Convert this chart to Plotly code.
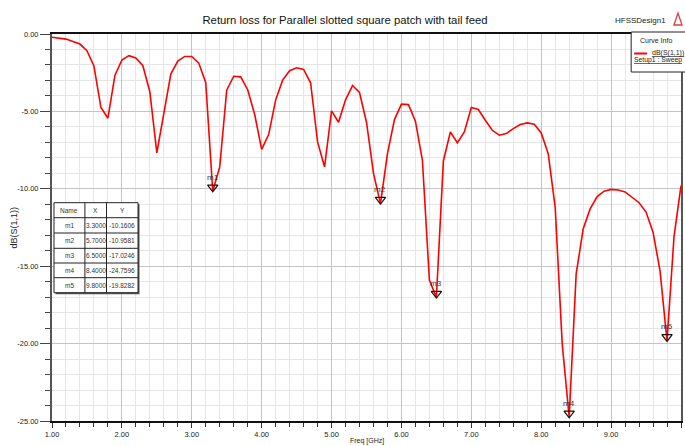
import plotly.graph_objects as go

# Swept S11 response (dB) of the parallel slotted square patch
freq_ghz = [1.0, 1.1, 1.2, 1.3, 1.4, 1.5, 1.6, 1.7, 1.8, 1.9,
            2.0, 2.1, 2.2, 2.3, 2.4, 2.5, 2.6, 2.7, 2.8, 2.9,
            3.0, 3.1, 3.2, 3.3, 3.4, 3.5, 3.6, 3.7, 3.8, 3.9,
            4.0, 4.1, 4.2, 4.3, 4.4, 4.5, 4.6, 4.7, 4.8, 4.9,
            5.0, 5.1, 5.2, 5.3, 5.4, 5.5, 5.6, 5.7, 5.8, 5.9,
            6.0, 6.1, 6.2, 6.3, 6.4, 6.5, 6.6, 6.7, 6.8, 6.9,
            7.0, 7.1, 7.2, 7.3, 7.4, 7.5, 7.6, 7.7, 7.8, 7.9,
            8.0, 8.1, 8.2, 8.3, 8.4, 8.5, 8.6, 8.7, 8.8, 8.9,
            9.0, 9.1, 9.2, 9.3, 9.4, 9.5, 9.6, 9.7, 9.8, 9.9, 10.0]
s11_db = [-0.21, -0.26, -0.33, -0.48, -0.65, -1.08, -2.07, -4.75, -5.44, -2.68,
          -1.68, -1.40, -1.55, -2.05, -3.73, -7.68, -5.14, -2.59, -1.75, -1.45,
          -1.45, -1.88, -3.14, -10.1606, -8.59, -3.63, -2.73, -2.77, -3.60, -5.20,
          -7.45, -6.50, -4.27, -2.98, -2.37, -2.18, -2.29, -3.15, -6.97, -8.59,
          -4.97, -5.70, -4.25, -3.33, -3.78, -5.70, -9.00, -10.9581, -7.73, -5.53,
          -4.53, -4.56, -5.63, -8.16, -15.90, -17.0246, -8.20, -6.33, -7.02, -6.33,
          -4.75, -4.88, -5.57, -6.22, -6.54, -6.43, -6.11, -5.85, -5.74, -5.83,
          -6.39, -7.73, -11.20, -20.00, -24.7596, -15.50, -12.60, -11.30, -10.50, -10.15,
          -10.04, -10.08, -10.20, -10.55, -10.90, -11.50, -12.80, -15.30, -19.8282, -13.10, -9.80]

# Markers
marker_names = ["m1", "m2", "m3", "m4", "m5"]
marker_x = [3.3, 5.7, 6.5, 8.4, 9.8]
marker_y = [-10.1606, -10.9581, -17.0246, -24.7596, -19.8282]

# Axis ticks
x_tickvals = [1, 2, 3, 4, 5, 6, 7, 8, 9, 10]
x_ticktext = ["1.00", "2.00", "3.00", "4.00", "5.00", "6.00", "7.00", "8.00", "9.00", "10.00"]
y_tickvals = [0, -5, -10, -15, -20, -25]
y_ticktext = ["0.00", "-5.00", "-10.00", "-15.00", "-20.00", "-25.00"]

W, H = 685, 446
ML, MR, MT, MB = 52, 2, 34, 25
PW, PH = W - ML - MR, H - MT - MB
FONT = "Liberation Sans, Arial, sans-serif"
TXT = "#222222"


def px(x):
    return (x - ML) / PW


def py(y):
    return (H - MB - y) / PH


fig = go.Figure()

fig.add_trace(go.Scatter(
    x=freq_ghz, y=s11_db, mode="lines",
    line=dict(color="#ff0000", width=1.6),
    hoverinfo="x+y", showlegend=False,
))

# down-pointing open triangles whose tip rests on the marker point
fig.add_trace(go.Scatter(
    x=marker_x, y=marker_y, mode="markers",
    marker=dict(symbol="triangle-up-open", angle=180, size=9, color="#111111",
                line=dict(width=1.2), standoff=4),
    hoverinfo="x+y", showlegend=False,
))

annotations = []
for name, mx, my in zip(marker_names, marker_x, marker_y):
    annotations.append(dict(
        x=mx, y=my, xref="x", yref="y", text=name, showarrow=False,
        yshift=14, font=dict(family=FONT, size=8, color="#333333"),
    ))

shapes = []

# Marker table
col_edges = [54, 85, 106.7, 138.3]
row_edges = [202.7, 217.7, 233, 248.3, 263, 277.7, 292.7]
shapes.append(dict(type="rect", xref="paper", yref="paper",
                   x0=px(col_edges[0] + 1.5), x1=px(col_edges[-1] + 1.5),
                   y0=py(row_edges[-1] + 1.5), y1=py(row_edges[0] + 1.5),
                   fillcolor="#555555", line=dict(width=0), layer="above"))
shapes.append(dict(type="rect", xref="paper", yref="paper",
                   x0=px(col_edges[0]), x1=px(col_edges[-1]),
                   y0=py(row_edges[-1]), y1=py(row_edges[0]),
                   fillcolor="white", line=dict(color="#222222", width=1), layer="above"))
for ry in row_edges[1:-1]:
    shapes.append(dict(type="line", xref="paper", yref="paper",
                       x0=px(col_edges[0]), x1=px(col_edges[-1]), y0=py(ry), y1=py(ry),
                       line=dict(color="#222222", width=1), layer="above"))
for cx in col_edges[1:-1]:
    shapes.append(dict(type="line", xref="paper", yref="paper",
                       x0=px(cx), x1=px(cx), y0=py(row_edges[-1]), y1=py(row_edges[0]),
                       line=dict(color="#222222", width=1), layer="above"))

table_rows = [["Name", "X", "Y"]] + [
    [n, f"{x:.4f}", f"{y:.4f}"] for n, x, y in zip(marker_names, marker_x, marker_y)
]
for r, row in enumerate(table_rows):
    cy = (row_edges[r] + row_edges[r + 1]) / 2
    for c, val in enumerate(row):
        cx = (col_edges[c] + col_edges[c + 1]) / 2
        annotations.append(dict(
            x=px(cx), y=py(cy), xref="paper", yref="paper", text=val,
            showarrow=False, xanchor="center", yanchor="middle",
            font=dict(family=FONT, size=6.5, color="#333333"),
        ))

# Curve info box
shapes.append(dict(type="rect", xref="paper", yref="paper",
                   x0=px(633), x1=px(700), y0=py(72), y1=py(32),
                   fillcolor="white", line=dict(color="#222222", width=1), layer="above"))
shapes.append(dict(type="line", xref="paper", yref="paper",
                   x0=px(636), x1=px(649), y0=py(53.5), y1=py(53.5),
                   line=dict(color="#ff0000", width=2), layer="above"))
annotations += [
    dict(x=px(658), y=py(40), xref="paper", yref="paper", text="Curve Info",
         showarrow=False, xanchor="center", yanchor="middle",
         font=dict(family=FONT, size=7, color=TXT)),
    dict(x=px(652), y=py(53), xref="paper", yref="paper", text="<u>dB(S(1,1))</u>",
         showarrow=False, xanchor="left", yanchor="middle",
         font=dict(family=FONT, size=7, color=TXT)),
    dict(x=px(634), y=py(60), xref="paper", yref="paper", text="<u>Setup1 : Sweep</u>",
         showarrow=False, xanchor="left", yanchor="middle",
         font=dict(family=FONT, size=6.8, color=TXT)),
    dict(x=px(670), y=py(20), xref="paper", yref="paper", text="HFSSDesign1",
         showarrow=False, xanchor="right", yanchor="middle",
         font=dict(family=FONT, size=8, color=TXT)),
    # axis titles
    dict(x=0.5, y=py(441), xref="paper", yref="paper", text="Freq [GHz]",
         showarrow=False, xanchor="center", yanchor="middle",
         font=dict(family=FONT, size=7, color=TXT)),
    dict(x=px(13), y=0.5, xref="paper", yref="paper", text="dB(S(1,1))",
         showarrow=False, xanchor="center", yanchor="middle", textangle=-90,
         font=dict(family=FONT, size=9, color=TXT)),
]

# small logo mark
shapes.append(dict(type="path", xref="paper", yref="paper",
                   path=f"M {px(676)},{py(25)} L {px(680)},{py(13)} L {px(684)},{py(25)} Z",
                   fillcolor="rgba(0,0,0,0)", line=dict(color="#d84040", width=1.3),
                   layer="above"))

fig.update_layout(
    width=W, height=H,
    margin=dict(l=ML, r=MR, t=MT, b=MB, pad=0),
    paper_bgcolor="white", plot_bgcolor="white",
    title=dict(text="Return loss for Parallel slotted square patch with tail feed",
               x=345 / W, xref="container", xanchor="center",
               y=1 - 20.5 / H, yref="container", yanchor="middle",
               font=dict(family=FONT, size=11.3, color="#111111")),
    font=dict(family=FONT, size=8, color=TXT),
    annotations=annotations,
    shapes=shapes,
    showlegend=False,
)

fig.update_xaxes(
    range=[1, 10], tickvals=x_tickvals, ticktext=x_ticktext,
    showgrid=True, gridcolor="#c4c4c4", gridwidth=1.2,
    ticks="outside", ticklen=5, tickcolor="#333333", tickwidth=1,
    showline=True, linecolor="#111111", linewidth=1.5, mirror=True,
    tickfont=dict(family=FONT, size=7.5, color=TXT),
    minor=dict(dtick=0.2, tick0=1, showgrid=True, gridcolor="#e6e6e6", gridwidth=1,
               ticks="outside", ticklen=4, tickcolor="#333333"),
    zeroline=False,
)
fig.update_yaxes(
    range=[-25, 0], tickvals=y_tickvals, ticktext=y_ticktext,
    showgrid=True, gridcolor="#c4c4c4", gridwidth=1.2,
    ticks="outside", ticklen=10, tickcolor="#444444", tickwidth=1,
    showline=True, linecolor="#555555", linewidth=2, mirror=True,
    tickfont=dict(family=FONT, size=7.5, color=TXT),
    minor=dict(dtick=1, tick0=0, showgrid=True, gridcolor="#e6e6e6", gridwidth=1,
               ticks="outside", ticklen=5, tickcolor="#444444"),
    zeroline=False,
)

fig.write_html("out.html")
